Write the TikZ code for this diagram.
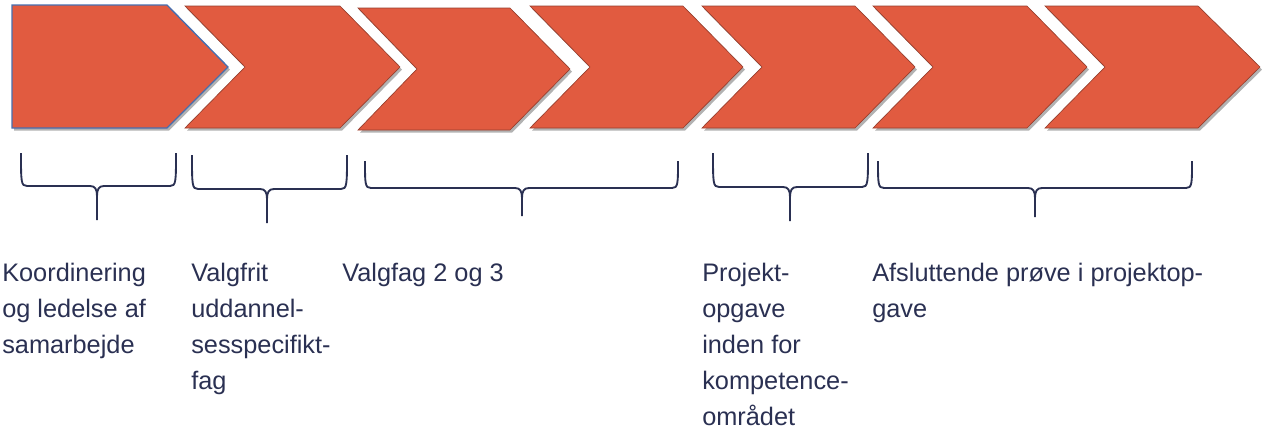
\documentclass[tikz,border=0pt]{standalone}
\usepackage{fontspec}
\setmainfont{Liberation Sans}
\usetikzlibrary{shadows}
\definecolor{chev}{RGB}{225,91,64}
\definecolor{chevedge}{RGB}{150,62,45}
\definecolor{navy}{RGB}{42,48,82}
\definecolor{blueedge}{RGB}{70,110,175}
\newcommand\mybrace[6]{%
  \draw[bracel] (#1,#4) .. controls (#1,#5-4) and (#1,#5) .. (#1+6,#5) -- (#2-7,#5) .. controls (#2-2,#5) and (#2,#5+3) .. (#2,#5+10) -- (#2,#6);
  \draw[bracel] (#3,#4) .. controls (#3,#5-4) and (#3,#5) .. (#3-6,#5) -- (#2+7,#5) .. controls (#2+2,#5) and (#2,#5+3) .. (#2,#5+10);
}
\begin{document}
\begin{tikzpicture}[x=0.75pt,y=-0.75pt,
  chevron/.style={fill=chev, draw=chevedge, line width=0.5pt, line join=miter,
    drop shadow={shadow xshift=1.5pt, shadow yshift=-2pt, opacity=0.3, fill=black}},
  bracel/.style={draw=navy, line width=1.4pt},
  label/.style={anchor=north west, inner sep=0pt, align=left, text=navy,
    font=\fontsize{19}{27}\selectfont}]
\useasboundingbox (0,0) rectangle (1262,436);
% chevrons
\draw[chevron, draw=blueedge, line width=1pt] (12,5) -- (167,5) -- (228,67) -- (167,128) -- (12,128) -- cycle;
\draw[chevron] (185,6) -- (340,6) -- (400,67) -- (340,128) -- (185,128) -- (245,67) -- cycle;
\draw[chevron] (358,8) -- (510,8) -- (570,69) -- (510,130) -- (358,130) -- (417,69) -- cycle;
\draw[chevron] (530,6) -- (683,6) -- (743,67) -- (683,128) -- (530,128) -- (590,67) -- cycle;
\draw[chevron] (702,6) -- (855,6) -- (915,67) -- (855,128) -- (702,128) -- (762,67) -- cycle;
\draw[chevron] (873,6) -- (1027,6) -- (1087,67) -- (1027,128) -- (873,128) -- (933,67) -- cycle;
\draw[chevron] (1045,6) -- (1198,6) -- (1260,67) -- (1198,128) -- (1045,128) -- (1105,67) -- cycle;
% braces
\mybrace{21}{97}{176}{153}{186}{220}
\mybrace{192}{267}{347}{155}{189}{223}
\mybrace{365}{522}{678}{161}{188}{216}
\mybrace{713}{790}{868}{153}{187}{221}
\mybrace{878}{1035}{1192}{161}{188}{217}
% labels
\node[label] (t1) at (2,263) {Koordinering\\og ledelse af\\samarbejde};
\node[label] (t2) at (191,263) {Valgfrit\\uddannel-\\sesspecifikt-\\fag};
\node[label] (t3) at (342,263) {Valgfag 2 og 3};
\node[label] (t4) at (702,263) {Projekt-\\opgave\\inden for\\kompetence-\\området};
\node[label] (t5) at (872,263) {Afsluttende prøve i projektop-\\gave};
\end{tikzpicture}
\end{document}
